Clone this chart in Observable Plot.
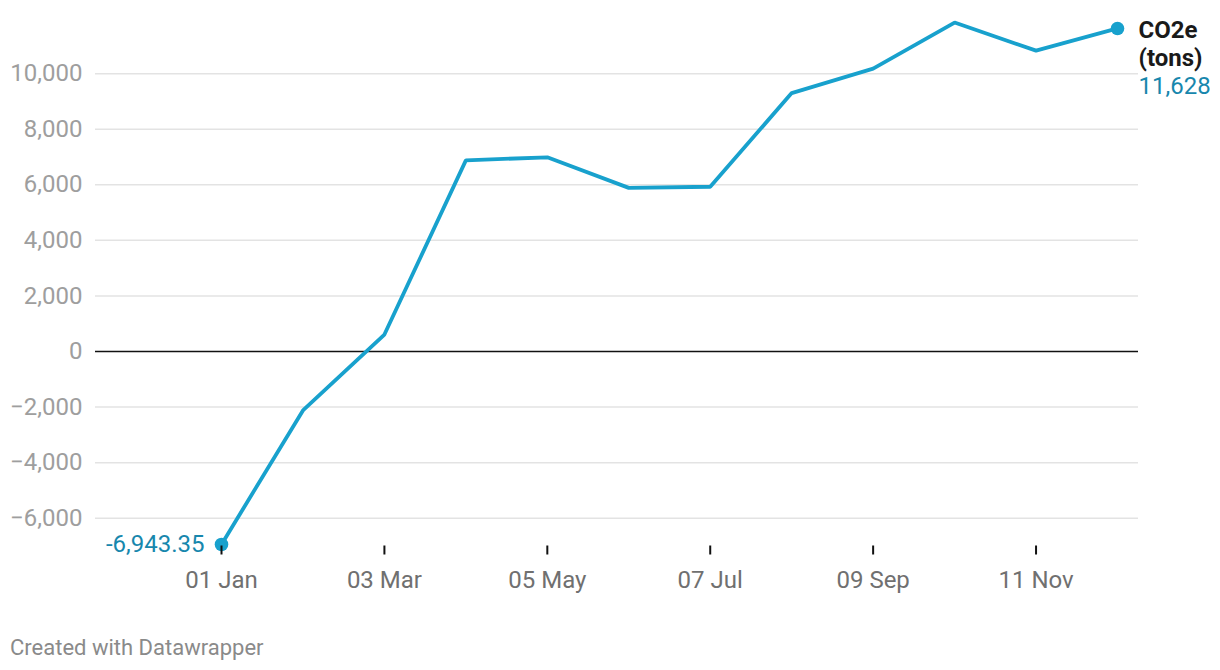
<!DOCTYPE html>
<html>
<head>
<meta charset="utf-8">
<script src="https://cdn.jsdelivr.net/npm/d3@7"></script>
<script src="https://cdn.jsdelivr.net/npm/@observablehq/plot@0.6"></script>
<style>
  html, body { margin: 0; padding: 0; background: #fff; }
  body { width: 1220px; height: 670px; position: relative; font-family: Roboto, sans-serif; overflow: hidden; }
  #chart { position: absolute; left: 0; top: 0; }
  #caption { position: absolute; left: 10px; top: 635px; font-size: 22px; color: #8a8a8a; font-family: Roboto, sans-serif; }
</style>
</head>
<body>
<div id="chart"></div>
<div id="caption">Created with Datawrapper</div>
<script>
// Data
const periods = [0, 1, 2, 3, 4, 5, 6, 7, 8, 9, 10, 11];
const co2e = [-6943.35, -2120, 610, 6880, 6990, 5890, 5930, 9300, 10180, 11840, 10830, 11628];
const xTickValues = [0, 2, 4, 6, 8, 10];
const xTickLabels = ["01 Jan", "03 Mar", "05 May", "07 Jul", "09 Sep", "11 Nov"];
const yTickValues = [-6000, -4000, -2000, 0, 2000, 4000, 6000, 8000, 10000];
const seriesNameLines = ["CO2e", "(tons)"];
const startLabel = "-6,943.35";
const endLabel = "11,628";

const data = periods.map((p, i) => ({p, v: co2e[i]}));
const first = [data[0]];
const last = [data[data.length - 1]];
const grid = yTickValues.filter(v => v !== 0);

const blue = "#18a1cd";
const labelBlue = "#1787ad";
const fs = 24;

const chart = Plot.plot({
  width: 1220,
  height: 620,
  marginLeft: 95,
  marginRight: 82,
  marginTop: 17.6,
  marginBottom: 74.5,
  style: {fontFamily: "Roboto, sans-serif", fontSize: fs + "px", background: "transparent"},
  x: {type: "linear", domain: [0, 11], insetLeft: 126, insetRight: 21},
  y: {domain: [-7000, 12000]},
  marks: [
    Plot.ruleY(grid, {stroke: "#e3e3e3", strokeWidth: 1.5}),
    Plot.ruleY([0], {stroke: "#111", strokeWidth: 1.6}),
    Plot.axisY({
      ticks: yTickValues, tickSize: 0, tickPadding: 13,
      tickFormat: d3.format(","), label: null,
      fill: "#9e9e9e", fontSize: fs
    }),
    Plot.line(data, {x: "p", y: "v", stroke: blue, strokeWidth: 3.8, strokeLinejoin: "miter", strokeLinecap: "butt"}),
    Plot.dot(first, {x: "p", y: "v", r: 6.8, fill: blue, stroke: "none"}),
    Plot.dot(last, {x: "p", y: "v", r: 6.8, fill: blue, stroke: "none"}),
    Plot.axisX({
      ticks: xTickValues, tickSize: 9, tickPadding: 16,
      tickFormat: (d) => xTickLabels[xTickValues.indexOf(d)],
      stroke: "#111", strokeWidth: 2, fill: "#707070", fontSize: fs, label: null
    }),
    Plot.text(first, {x: "p", y: "v", text: () => startLabel, dx: -17, textAnchor: "end", fill: labelBlue, fontSize: fs}),
    Plot.text(last, {x: "p", y: "v", text: () => seriesNameLines[0], dx: 21, dy: 2, textAnchor: "start", fill: "#1a1a1a", fontWeight: "bold", fontSize: fs}),
    Plot.text(last, {x: "p", y: "v", text: () => seriesNameLines[1], dx: 21, dy: 30, textAnchor: "start", fill: "#1a1a1a", fontWeight: "bold", fontSize: fs}),
    Plot.text(last, {x: "p", y: "v", text: () => endLabel, dx: 21, dy: 58, textAnchor: "start", fill: labelBlue, fontSize: fs})
  ]
});
document.getElementById("chart").appendChild(chart);
</script>
</body>
</html>
